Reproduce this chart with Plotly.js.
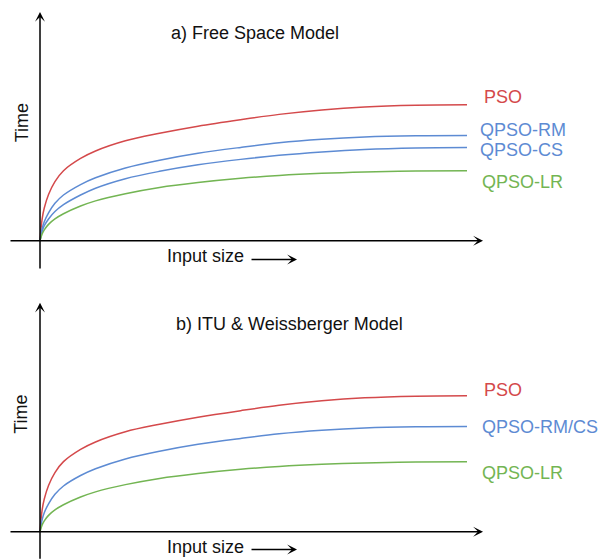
<!DOCTYPE html>
<html>
<head>
<meta charset="utf-8">
<script src="https://cdn.plot.ly/plotly-3.0.1.min.js"></script>
<style>html,body{margin:0;padding:0;background:#fff;}#chart{width:599px;height:560px;}</style>
</head>
<body>
<div id="chart"></div>
<script>
// Input size (arbitrary units, 0..100)
const inputSize = [0, 0.5, 1, 2, 3.5, 5.5, 9.5, 13, 20, 28, 37, 47, 56, 66, 76, 88, 100];

// a) Free Space Model - Time (arbitrary units)
const psoA    = [0, 16, 24, 34, 43.5, 51.5, 60.5, 66, 73.5, 79, 84.2, 89, 92.9, 96.2, 98.4, 99.6, 99.9];
const qpsoRmA = [0, 9, 14, 20.5, 27.5, 33.6, 41.3, 46.3, 53.5, 59.2, 64.3, 68.6, 72, 74.6, 76.3, 77.2, 77.4];
const qpsoCsA = [0, 7, 11, 16, 21.5, 26.5, 33.6, 38.6, 45.6, 51, 55.8, 59.8, 62.8, 65.3, 67.1, 68.2, 68.5];
const qpsoLrA = [0, 5, 8, 12, 16, 19.8, 25.5, 29.3, 34.6, 39.2, 42.8, 45.9, 48, 49.6, 50.6, 51.2, 51.4];

// b) ITU & Weissberger Model - Time (arbitrary units)
const psoB      = [0, 16, 24, 34, 43.5, 51.5, 60.5, 66, 73.5, 79, 84.2, 89, 92.9, 96.2, 98.4, 99.6, 99.9];
const qpsoRmCsB = [0, 9, 14, 20.5, 27.5, 33.6, 41.3, 46.3, 53.5, 59.2, 64.3, 68.6, 72, 74.6, 76.3, 77.2, 77.4];
const qpsoLrB   = [0, 5, 8, 12, 16, 19.8, 25.5, 29.3, 34.6, 39.2, 42.8, 45.9, 48, 49.6, 50.6, 51.2, 51.4];

const titleA = "a) Free Space Model";
const titleB = "b) ITU & Weissberger Model";
const labelsA = ["PSO", "QPSO-RM", "QPSO-CS", "QPSO-LR"];
const labelsB = ["PSO", "QPSO-RM/CS", "QPSO-LR"];
const xLabel = "Input size";
const yLabel = "Time";

const RED = "#d4494b", BLUE = "#5d8bd3", GREEN = "#73b553";
const FONT = "Liberation Sans, Arial, Helvetica, sans-serif";

function line(y, color, xa, ya) {
  return {x: inputSize, y: y, type: "scatter", mode: "lines", xaxis: xa, yaxis: ya,
    line: {color: color, width: 1.5, shape: "spline", smoothing: 1}, hoverinfo: "skip", showlegend: false};
}

const data = [
  line(psoA, RED, "x", "y"),
  line(qpsoRmA, BLUE, "x", "y"),
  line(qpsoCsA, BLUE, "x", "y"),
  line(qpsoLrA, GREEN, "x", "y"),
  line(psoB, RED, "x2", "y2"),
  line(qpsoRmCsB, BLUE, "x2", "y2"),
  line(qpsoLrB, GREEN, "x2", "y2")
];

function arrow(xr, yr, x, y, ax, ay) {
  return {xref: xr, yref: yr, axref: xr, ayref: yr, x: x, y: y, ax: ax, ay: ay, text: "",
    showarrow: true, arrowhead: 3, arrowsize: 1.1, arrowwidth: 1.5, arrowcolor: "#000", standoff: 0};
}
function txt(xr, yr, x, y, s, color, opts) {
  return Object.assign({xref: xr, yref: yr, x: x, y: y, text: s, showarrow: false,
    font: {family: FONT, size: 18, color: color}, xanchor: "center", yanchor: "middle"}, opts || {});
}

const annotations = [];
// panel a
annotations.push(arrow("x", "y", 103.75, 0, -7.26, 0));
annotations.push(arrow("x", "y", 0, 168.2, 0, -21.5));
annotations.push(arrow("x", "y", 60.19, -13.8, 49.18, -13.8));
annotations.push(txt("x", "y", 38.76, -11.25, xLabel, "#111"));
annotations.push(txt("x", "y", -4.29, 86.9, yLabel, "#111", {textangle: -90}));
annotations.push(txt("x", "y", 50.3, 153.1, titleA, "#111"));
const labAy = [105.7, 81.4, 66.7, 43.2];
const labAx = [103.5, 102.6, 102.6, 103.0];
const colA = [RED, BLUE, BLUE, GREEN];
labelsA.forEach((s, i) => annotations.push(txt("x", "y", labAx[i], labAy[i], s, colA[i], {xanchor: "left"})));
// panel b
annotations.push(arrow("x2", "y2", 103.75, 0, -7.26, 0));
annotations.push(arrow("x2", "y2", 0, 168.4, 0, -21));
annotations.push(arrow("x2", "y2", 60.19, -13.1, 49.18, -13.1));
annotations.push(txt("x2", "y2", 38.76, -10.9, xLabel, "#111"));
annotations.push(txt("x2", "y2", -4.29, 86.4, yLabel, "#111", {textangle: -90}));
annotations.push(txt("x2", "y2", 58.43, 152.7, titleB, "#111"));
const labBy = [104.2, 77.0, 43.2];
const labBx = [103.5, 103.0, 103.0];
const colB = [RED, BLUE, GREEN];
labelsB.forEach((s, i) => annotations.push(txt("x2", "y2", labBx[i], labBy[i], s, colB[i], {xanchor: "left"})));

const hidden = {visible: false, fixedrange: true};
const layout = {
  width: 599, height: 560,
  margin: {l: 0, r: 0, t: 0, b: 0, pad: 0},
  paper_bgcolor: "#fff", plot_bgcolor: "#fff",
  showlegend: false,
  xaxis: Object.assign({range: [-9.368, 130.91], domain: [0, 1], anchor: "y"}, hidden),
  yaxis: Object.assign({range: [-28.9, 177.0], domain: [0.5, 1], anchor: "x"}, hidden),
  xaxis2: Object.assign({range: [-9.368, 130.91], domain: [0, 1], anchor: "y2"}, hidden),
  yaxis2: Object.assign({range: [-20.81, 185.07], domain: [0, 0.5], anchor: "x2"}, hidden),
  annotations: annotations
};

Plotly.newPlot("chart", data, layout, {displayModeBar: false, staticPlot: true});
</script>
</body>
</html>
